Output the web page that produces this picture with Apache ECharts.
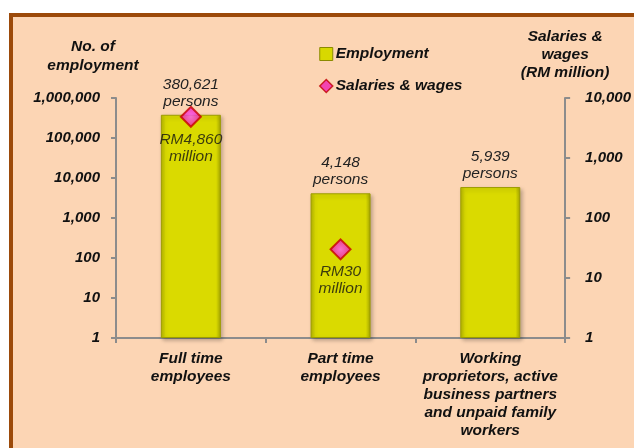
<!DOCTYPE html>
<html><head><meta charset="utf-8">
<script src="https://cdn.jsdelivr.net/npm/echarts@6/dist/echarts.min.js"></script>
<style>
html,body{margin:0;padding:0;background:#fff;width:634px;height:448px;overflow:hidden}
#frame{position:absolute;left:9px;top:13px;width:640px;height:450px;border:4px solid #9C4A0A;background:#FCD5B4;box-sizing:border-box}
#c{position:absolute;left:0;top:0;width:634px;height:448px}
</style></head><body>
<div id="frame"></div>
<div id="c"></div>
<script>
const categories = ['Full time\nemployees', 'Part time\nemployees', 'Working\nproprietors, active\nbusiness partners\nand unpaid family\nworkers'];
const employment = [380621, 4148, 5939];
const salaries = [4860, 30, null];
const leftTicks = [1, 10, 100, 1000, 10000, 100000, 1000000];
const rightTicks = [1, 10, 100, 1000, 10000];

const FONT = '"Liberation Sans", Arial, sans-serif';
const fmt = v => Number(v).toLocaleString('en-US');
const chart = echarts.init(document.getElementById('c'), null, {renderer: 'canvas'});
const bi = {fontFamily: FONT, fontSize: 15, fontWeight: 'bold', fontStyle: 'italic', color: '#111'};
chart.setOption({
  backgroundColor: 'transparent',
  animation: false,
  grid: {left: 116, right: 68, top: 98, bottom: 110, containLabel: false},
  legend: {
    orient: 'vertical', left: 314, top: 41, itemGap: 16, itemWidth: 13, itemHeight: 13,
    textStyle: Object.assign({}, bi, {fontSize: 15.5, padding: [0, 0, 0, -2]}),
    data: [
      {name: 'Employment', icon: 'path://M3,3L12,3L12,12L3,12Z', itemStyle: {color: '#D8D800', borderColor: '#8a8a00', borderWidth: 1}},
      {name: 'Salaries & wages', icon: 'diamond', itemStyle: {color: '#F020B0', borderColor: '#C00000', borderWidth: 1.5}}
    ]
  },
  xAxis: {
    type: 'category', data: categories, boundaryGap: true,
    axisLine: {lineStyle: {color: '#8c8c8c', width: 2}},
    axisTick: {show: true, alignWithLabel: false, length: 5, lineStyle: {color: '#8c8c8c', width: 2}},
    axisLabel: Object.assign({margin: 12, lineHeight: 18, interval: 0}, bi, {fontSize: 15.5})
  },
  yAxis: [
    {
      type: 'log', logBase: 10, min: 1, max: 1000000, position: 'left',
      name: 'No. of\nemployment', nameLocation: 'end', nameGap: 23,
      nameTextStyle: Object.assign({align: 'center', lineHeight: 19, padding: [0, 46, 0, 0]}, bi, {fontSize: 15.5}),
      axisLine: {show: true, lineStyle: {color: '#8c8c8c', width: 2}},
      axisTick: {show: true, length: 5, lineStyle: {color: '#8c8c8c', width: 2}},
      splitLine: {show: false},
      axisLabel: Object.assign({margin: 16, formatter: v => fmt(v)}, bi)
    },
    {
      type: 'log', logBase: 10, min: 1, max: 10000, position: 'right',
      name: 'Salaries &\nwages\n(RM million)', nameLocation: 'end', nameGap: 16,
      nameTextStyle: Object.assign({align: 'center', lineHeight: 18}, bi, {fontSize: 15.5}),
      axisLine: {show: true, lineStyle: {color: '#8c8c8c', width: 2}},
      axisTick: {show: true, length: 5, lineStyle: {color: '#8c8c8c', width: 2}},
      splitLine: {show: false},
      axisLabel: Object.assign({margin: 20, formatter: v => fmt(v)}, bi)
    }
  ],
  series: [
    {
      name: 'Employment', type: 'bar', yAxisIndex: 0, data: employment, barWidth: 60,
      itemStyle: {
        color: new echarts.graphic.LinearGradient(0, 0, 1, 0, [
          {offset: 0, color: '#B5B500'}, {offset: 0.08, color: '#DADA00'},
          {offset: 0.92, color: '#DADA00'}, {offset: 1, color: '#A5A500'}
        ]),
        borderColor: '#9c9c00', borderWidth: 1,
        shadowColor: 'rgba(0,0,0,0.25)', shadowBlur: 4, shadowOffsetX: 2, shadowOffsetY: 2
      },
      label: {
        show: true, position: 'top', distance: 5,
        formatter: p => fmt(p.value) + '\npersons',
        fontFamily: FONT, fontSize: 15.5, fontStyle: 'italic', color: '#222', lineHeight: 17
      },
      z: 2
    },
    {
      name: 'Salaries & wages', type: 'scatter', yAxisIndex: 1, data: salaries,
      symbol: 'diamond', symbolSize: 20,
      itemStyle: {
        color: new echarts.graphic.RadialGradient(0.5, 0.5, 0.6, [
          {offset: 0, color: '#FF55FF'}, {offset: 1, color: '#E0088A'}
        ]),
        borderColor: '#C80000', borderWidth: 2
      },
      label: {
        show: true, position: 'bottom', distance: 3,
        formatter: p => 'RM' + fmt(p.value) + '\nmillion',
        fontFamily: FONT, fontSize: 15.5, fontStyle: 'italic', color: '#111', lineHeight: 17
      },
      z: 5
    }
  ]
});
</script>
</body></html>
